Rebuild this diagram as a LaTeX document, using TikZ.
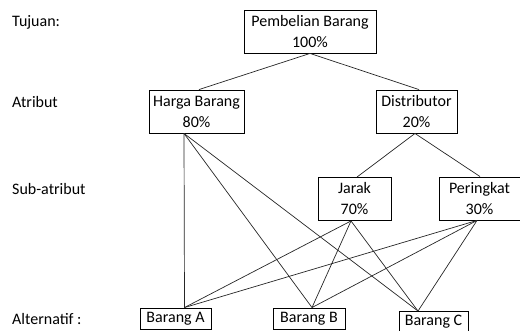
\documentclass[tikz,border=0pt]{standalone}
\usepackage{fontspec}
\setmainfont{Carlito}
\begin{document}
\begin{tikzpicture}[x=1pt,y=-1pt,
  every node/.style={font=\fontsize{16}{21}\selectfont},
  box/.style={draw=black,line width=0.9pt,inner sep=0pt,align=center},
  lbl/.style={anchor=west,inner sep=0pt},
  link/.style={draw=black!85,line width=0.7pt}]
\useasboundingbox (0,0) rectangle (520,331);
% level labels
\node[lbl] (t1) at (12,22) {Tujuan:};
\node[lbl] (t2) at (12,102) {Atribut};
\node[lbl] (t3) at (12,189) {Sub-atribut};
\node[lbl] (t4) at (12,319) {Alternatif :};
% hierarchy boxes
\node[box,minimum width=132,minimum height=43] (goal) at (310,31.5) {Pembelian Barang\\100\%};
\node[box,minimum width=95,minimum height=43] (harga) at (196.5,111.5) {Harga Barang\\80\%};
\node[box,minimum width=81,minimum height=43] (dist) at (416.5,111.5) {Distributor\\20\%};
\node[box,minimum width=73,minimum height=43] (jarak) at (354.5,199) {Jarak\\70\%};
\node[box,minimum width=81,minimum height=43] (ring) at (479.5,198.5) {Peringkat\\30\%};
\node[box,minimum width=71,minimum height=21] (ba) at (175.5,318.5) {Barang A};
\node[box,minimum width=72,minimum height=21] (bb) at (309,318.5) {Barang B};
\node[box,minimum width=69,minimum height=20] (bc) at (433.5,321.5) {Barang C};
% goal to attributes
\draw[link] (goal.south) -- ([xshift=2.5]harga.north);
\draw[link] (goal.south) -- ([xshift=2.5]dist.north);
% distributor to sub-attributes
\draw[link] ([xshift=-1.5]dist.south) -- ([xshift=2.5]jarak.north);
\draw[link] ([xshift=-1.5]dist.south) -- ([xshift=0.5]ring.north);
% criteria to alternatives
\foreach \src/\dx in {harga/-12.5, jarak/-3.5, ring/-2.5}{
  \draw[link] ([xshift=\dx]\src.south) -- ([xshift=9]ba.north);
  \draw[link] ([xshift=\dx]\src.south) -- ([xshift=3]bb.north);
  \draw[link] ([xshift=\dx]\src.south) -- ([xshift=-15.5]bc.north);
}
\end{tikzpicture}
\end{document}
